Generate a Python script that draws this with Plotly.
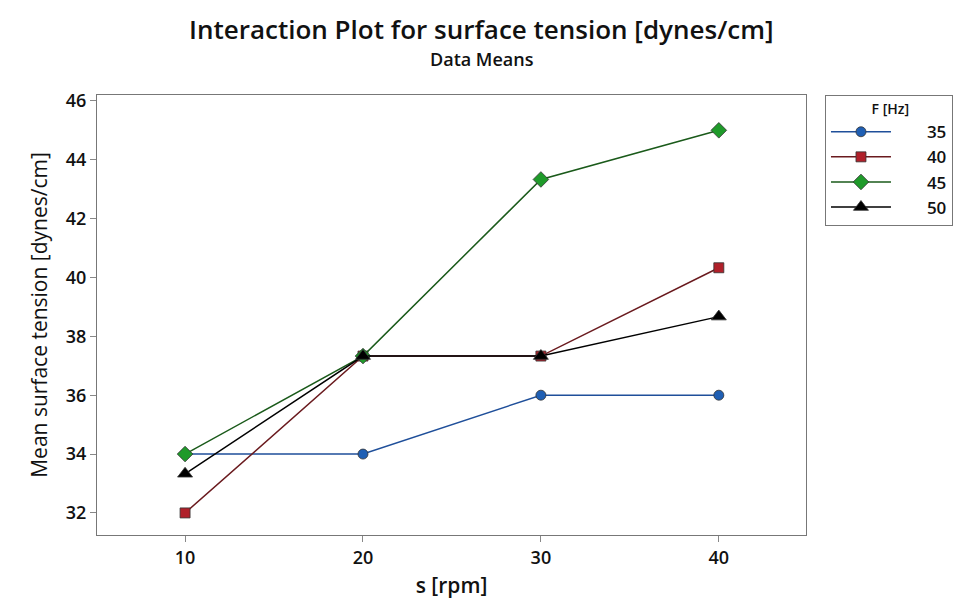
import plotly.graph_objects as go

speeds = [10, 20, 30, 40]
freq_labels = ["35", "40", "45", "50"]
means_35 = [34.0, 34.0, 36.0, 36.0]
means_40 = [32.0, 37.33, 37.33, 40.33]
means_45 = [34.0, 37.33, 43.33, 45.0]
means_50 = [33.33, 37.33, 37.33, 38.67]
y_ticks = [32, 34, 36, 38, 40, 42, 44, 46]
x_ticks = [10, 20, 30, 40]

series = [
    (freq_labels[0], means_35, "#1f5fb4", "#1f4f9a", "circle", 10),
    (freq_labels[1], means_40, "#b0202a", "#6a1a1e", "square", 10),
    (freq_labels[2], means_45, "#1f9a2a", "#1a5a1a", "diamond", 12),
    (freq_labels[3], means_50, "#000000", "#000000", "triangle-up", 13),
]

FONT = "Open Sans"
fig = go.Figure()
for name, vals, mcol, lcol, sym, sz in series:
    fig.add_trace(go.Scatter(
        x=speeds, y=vals, name="       " + name, mode="lines+markers",
        line=dict(color=lcol, width=1.5),
        marker=dict(symbol=sym, size=sz, color=mcol,
                    line=dict(color="#333333", width=0.8)),
    ))

plot_w = 965 - 97 - 158
plot_h = 605 - 95 - 65

fig.update_layout(
    width=965, height=605,
    paper_bgcolor="white", plot_bgcolor="white",
    margin=dict(l=97, r=158, t=95, b=65),
    font=dict(family=FONT, color="#111111"),
    xaxis=dict(
        range=[5.05, 44.9], tickvals=x_ticks, ticks="outside", ticklen=6,
        tickcolor="#888888", showgrid=False, zeroline=False,
        showline=True, linecolor="#777777", linewidth=1, mirror=True,
        tickfont=dict(family=FONT, size=18, color="#111111", weight=600),
        title=dict(text="s [rpm]", standoff=10,
                   font=dict(family=FONT, size=21, color="#111111", weight=600)),
    ),
    yaxis=dict(
        range=[31.25, 46.2], tickvals=y_ticks, ticks="outside", ticklen=6,
        tickcolor="#888888", showgrid=False, zeroline=False,
        showline=True, linecolor="#777777", linewidth=1, mirror=True,
        tickfont=dict(family=FONT, size=18, color="#111111", weight=600),
        title=dict(text="Mean surface tension [dynes/cm]", standoff=12,
                   font=dict(family=FONT, size=21, color="#111111", weight=500)),
    ),
    legend=dict(
        x=(826 - 97) / plot_w, xanchor="left", y=1.0, yanchor="top",
        xref="paper", yref="paper",
        bgcolor="white", bordercolor="#777777", borderwidth=1,
        font=dict(family=FONT, size=17, color="#111111", weight=600),
        title=dict(text="            F [Hz]", font=dict(family=FONT, size=14, color="#111111", weight=600)),
        itemwidth=60, tracegroupgap=0,
    ),
    annotations=[
        dict(text="Interaction Plot for surface tension [dynes/cm]",
             xref="paper", yref="paper", x=0.5 * 965 / plot_w - 97 / plot_w,
             y=1 + (95 - 28) / plot_h, xanchor="center", yanchor="middle",
             showarrow=False,
             font=dict(family=FONT, size=26, color="#111111", weight=600)),
        dict(text="Data Means",
             xref="paper", yref="paper", x=0.5 * 965 / plot_w - 97 / plot_w,
             y=1 + (95 - 59) / plot_h, xanchor="center", yanchor="middle",
             showarrow=False,
             font=dict(family=FONT, size=18, color="#111111", weight=600)),
    ],
)

fig.write_html("out.html")
